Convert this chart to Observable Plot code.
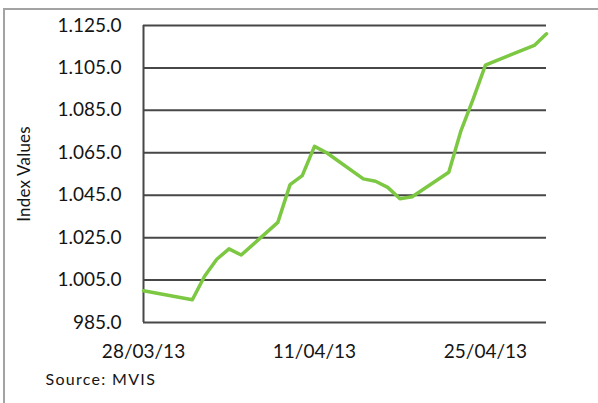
<!DOCTYPE html>
<html>
<head>
<meta charset="utf-8">
<script src="https://cdn.jsdelivr.net/npm/d3@7"></script>
<script src="https://cdn.jsdelivr.net/npm/@observablehq/plot@0.6"></script>
<style>
  html, body { margin: 0; padding: 0; background: #fff; overflow: hidden; }
  #wrap { position: relative; width: 598px; height: 403px; }
  #frame { position: absolute; left: 3px; top: 8px; width: 700px; height: 500px;
           border: 2px solid #a3a3a3; pointer-events: none; box-sizing: border-box; }
  svg text { font-family: Lato, "Open Sans", sans-serif; fill: #141414; }
  .tick text { letter-spacing: 1.5px; }
  g[aria-label="y-axis label"] text { font-size: 17px; letter-spacing: 0.2px; }
  .caption text { letter-spacing: 1.3px; }
</style>
</head>
<body>
<div id="wrap"><div id="frame"></div></div>
<script>
const dates = ["2013-03-28","2013-04-01","2013-04-02","2013-04-03","2013-04-04","2013-04-05",
  "2013-04-08","2013-04-09","2013-04-10","2013-04-11","2013-04-12",
  "2013-04-15","2013-04-16","2013-04-17","2013-04-18","2013-04-19",
  "2013-04-22","2013-04-23","2013-04-24","2013-04-25","2013-04-26",
  "2013-04-29","2013-04-30"];
const values = [1000.0, 995.7, 1006.8, 1014.8, 1019.7, 1016.8,
  1032.2, 1050.0, 1054.2, 1068.0, 1065.0,
  1052.7, 1051.6, 1048.7, 1043.3, 1044.3,
  1055.8, 1075.5, 1090.4, 1106.3, 1108.7,
  1115.6, 1121.1];
const yTicks = [985, 1005, 1025, 1045, 1065, 1085, 1105, 1125];
const xTickLabels = ["2013-03-28", "2013-04-11", "2013-04-25"];
const xDomain = ["2013-03-28", "2013-04-30"];
const yLabel = "Index Values";
const caption = "Source: MVIS";

const parse = d3.utcParse("%Y-%m-%d");
const data = dates.map((d, i) => ({date: parse(d), value: values[i]}));
const locale = d3.formatLocale({decimal: ".", thousands: ".", grouping: [3], currency: ["", ""]});
const yFmt = locale.format(",.1f");
const xFmt = d3.utcFormat("%d/%m/%y");

const chart = Plot.plot({
  width: 598,
  height: 403,
  marginLeft: 143,
  marginRight: 52,
  marginTop: 25,
  marginBottom: 81,
  style: {background: "transparent", fontSize: "19px", overflow: "visible"},
  x: {type: "utc", domain: xDomain.map(parse)},
  y: {domain: [985, 1125]},
  marks: [
    Plot.ruleY(yTicks, {stroke: "#474747", strokeWidth: 2}),
    Plot.ruleX([parse(xDomain[0])], {stroke: "#474747", strokeWidth: 2}),
    Plot.lineY(data, {x: "date", y: "value", stroke: "#7cc842", strokeWidth: 3.5, strokeLinejoin: "round"}),
    Plot.axisY({ticks: yTicks, tickFormat: yFmt, tickSize: 0, tickPadding: 22,
      label: yLabel, labelAnchor: "center", labelArrow: "none", labelOffset: 126, fontSize: 19}),
    Plot.axisX({ticks: xTickLabels.map(parse), tickFormat: xFmt, tickSize: 0, tickPadding: 22, label: null, fontSize: 19}),
    Plot.text([caption], {frameAnchor: "bottom-left", dx: -98, dy: 62, textAnchor: "start", fontSize: 16, fill: "#141414", className: "caption"})
  ]
});
document.getElementById("wrap").prepend(chart);
</script>
</body>
</html>
